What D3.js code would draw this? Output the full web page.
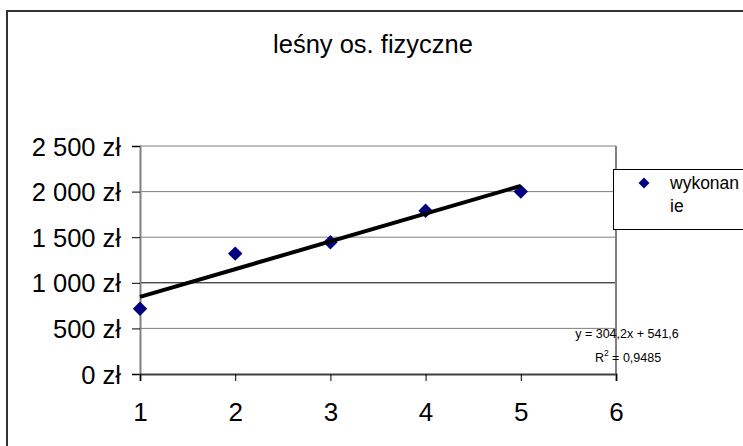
<!DOCTYPE html>
<html><head><meta charset="utf-8">
<script src="https://cdn.jsdelivr.net/npm/d3@7"></script>
<style>body{margin:0;background:#fff}svg{display:block}text{font-family:"Liberation Sans",Arial,sans-serif}</style>
</head><body>
<script>
const xValues = [1, 2, 3, 4, 5];
const yValues = [715, 1320, 1445, 1790, 2000];
const seriesName = "wykonanie";
const title = "leśny os. fizyczne";
const yTicks = [0, 500, 1000, 1500, 2000, 2500];
const xTicks = [1, 2, 3, 4, 5, 6];
const trendSlope = [304.2];
const trendIntercept = [541.6];
const trendLabels = ["y = 304,2x + 541,6", "R", "2", " = 0,9485"];

const W = 743, H = 446;
const svg = d3.select("body").append("svg").attr("width", W).attr("height", H);
const font = "Liberation Sans, Arial, sans-serif";

// outer chart border
svg.append("rect").attr("x", 7).attr("y", 11).attr("width", 760).attr("height", 460)
  .attr("fill", "#fff").attr("stroke", "#333").attr("stroke-width", 2);

const x = d3.scaleLinear().domain([1, 6]).range([140, 616]);
const y = d3.scaleLinear().domain([0, 2500]).range([374, 146]);

// gridlines
svg.append("g").selectAll("line").data(yTicks.filter(d => d > 0)).join("line")
  .attr("x1", 140).attr("x2", 616).attr("y1", d => y(d)).attr("y2", d => y(d))
  .attr("stroke", d => d === 1000 ? "#000" : "#808080").attr("stroke-width", 1);

// right border of plot area
svg.append("line").attr("x1", 616).attr("x2", 616).attr("y1", 146).attr("y2", 374)
  .attr("stroke", "#808080").attr("stroke-width", 2);

// y axis
const yAxis = svg.append("g").attr("transform", "translate(140,0)")
  .call(d3.axisLeft(y).tickValues(yTicks).tickSize(8).tickPadding(11)
    .tickFormat(d => d3.format(",")(d).replace(/,/g, " ") + " zł"));
yAxis.select(".domain").attr("stroke", "#808080").attr("stroke-width", 2);
yAxis.selectAll(".tick line").attr("stroke", "#000");
yAxis.selectAll("text").attr("font-size", 25.5).attr("fill", "#000").attr("font-family", font)
  .attr("dy", "0.36em");

// x axis
const xAxis = svg.append("g").attr("transform", "translate(0,374)")
  .call(d3.axisBottom(x).tickValues(xTicks).tickSize(7).tickPadding(16).tickFormat(d3.format("d")));
xAxis.select(".domain").attr("stroke", "#404040").attr("stroke-width", 2);
xAxis.selectAll(".tick line").attr("stroke", "#000");
xAxis.selectAll("text").attr("font-size", 26).attr("fill", "#000").attr("font-family", font)
  .attr("y", 47).attr("dy", 0);

// diamonds
const diamondPath = r => `M0,${-r}L${r},0L0,${r}L${-r},0Z`;
svg.append("g").selectAll("path").data(xValues.map((d, i) => [d, yValues[i]])).join("path")
  .attr("d", diamondPath(7.2)).attr("transform", d => `translate(${x(d[0])},${y(d[1])})`)
  .attr("fill", "#000080");

// trendline
const tx = [d3.min(xValues), d3.max(xValues)];
svg.append("line")
  .attr("x1", x(tx[0])).attr("y1", y(trendSlope[0] * tx[0] + trendIntercept[0]))
  .attr("x2", x(tx[1])).attr("y2", y(trendSlope[0] * tx[1] + trendIntercept[0]))
  .attr("stroke", "#000").attr("stroke-width", 4);

// trend label
svg.append("text").attr("x", 627).attr("y", 338).attr("text-anchor", "middle")
  .attr("font-size", 12.5).text(trendLabels[0]);
const r2 = svg.append("text").attr("x", 628).attr("y", 362).attr("text-anchor", "middle").attr("font-size", 12.5);
r2.append("tspan").text(trendLabels[1]);
r2.append("tspan").attr("dy", -6).attr("font-size", 8.5).text(trendLabels[2]);
r2.append("tspan").attr("dy", 6).text(trendLabels[3]);

// title
svg.append("text").attr("x", 373).attr("y", 53).attr("text-anchor", "middle")
  .attr("font-size", 25.5).text(title);

// legend
svg.append("rect").attr("x", 613.5).attr("y", 169.5).attr("width", 200).attr("height", 60)
  .attr("fill", "#fff").attr("stroke", "#000").attr("stroke-width", 1);
svg.append("path").attr("d", diamondPath(5.5))
  .attr("transform", "translate(644,183)").attr("fill", "#000080");
const lt = svg.append("text").attr("x", 670).attr("font-size", 17.5);
lt.append("tspan").attr("x", 670).attr("y", 189).text(seriesName.slice(0, 7));
lt.append("tspan").attr("x", 670).attr("y", 212).text(seriesName.slice(7));
</script>
</body></html>
